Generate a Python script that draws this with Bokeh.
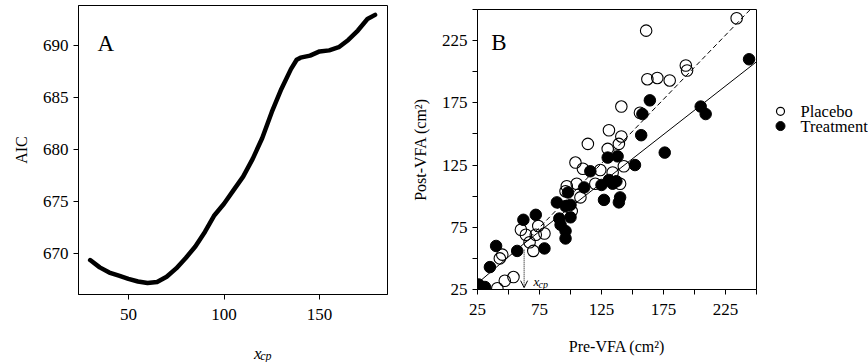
from bokeh.plotting import figure
from bokeh.layouts import row, column
from bokeh.models import FixedTicker, Label, Arrow, OpenHead
from bokeh.embed import file_html
from bokeh.resources import INLINE
from bokeh.core.properties import value

FONT = "Liberation Serif"

# ---- Panel A data: AIC profile over candidate change point x_cp ----
xcp_values = [30, 35, 40, 45, 50, 55, 60, 65, 70, 75, 80, 85, 90, 95, 100, 105, 110,
              115, 120, 125, 130, 135, 138, 140, 145, 150, 155, 160, 165, 170, 175, 179]
aic_values = [669.4, 668.7, 668.2, 667.9, 667.6, 667.35, 667.2, 667.3, 667.8, 668.6,
              669.6, 670.7, 672.1, 673.7, 674.8, 676.1, 677.4, 679.1, 681.1, 683.6,
              685.8, 687.7, 688.6, 688.8, 689.0, 689.4, 689.5, 689.8, 690.5, 691.4,
              692.5, 692.9]
a_xticks = [50, 100, 150]
a_yticks = [670, 675, 680, 685, 690]

# ---- Panel B data: pre vs post VFA ----
placebo_pre = [234, 161, 162, 170, 180, 193, 194, 141, 156, 131, 141, 139, 114, 130, 104,
               110, 124, 134, 143, 105, 108, 97, 120, 140, 101, 96, 60, 64, 72, 74, 79,
               67, 70, 43, 45, 41, 47, 54]
placebo_post = [243, 233, 194, 195, 193, 205, 201, 172, 167, 153, 148, 142, 142, 138, 127,
                122, 121, 119, 124, 110, 99, 108, 110, 110, 88, 104, 73, 69, 69, 76, 70,
                63, 56, 50, 53, 26, 32, 35]
treatment_pre = [244, 205, 209, 164, 158, 157, 176, 152, 130, 138, 116, 125, 131, 137, 127,
                 140, 139, 111, 98, 89, 96, 91, 100, 92, 96, 96, 72, 62, 57, 79, 40, 35,
                 26, 31, 100, 134]
treatment_post = [210, 172, 166, 177, 166, 149, 135, 125, 131, 132, 120, 109, 113, 112, 97,
                  99, 95, 107, 103, 95, 92, 82, 83, 77, 72, 66, 85, 81, 56, 58, 60, 43,
                  29, 27, 93, 110]
x_cp = 62.6
common_fit_x = [25, x_cp]
common_fit_y = [30, 62]
treatment_fit_x = [x_cp, 250]
treatment_fit_y = [62, 208]
placebo_fit_x = [x_cp, 245]
placebo_fit_y = [62, 250]
b_ticks = [25, 50, 75, 100, 125, 150, 175, 200, 225, 250]
b_labelled = [25, 75, 125, 175, 225]
legend_labels = ["Placebo", "Treatment"]


def style(p):
    for ax in (p.xaxis[0], p.yaxis[0]):
        ax.axis_line_color = "black"
        ax.axis_line_width = 1
        ax.major_tick_line_color = "black"
        ax.major_tick_out = 5
        ax.major_tick_in = 0
        ax.minor_tick_line_color = None
        ax.major_label_text_font = FONT
        ax.major_label_text_font_size = "17px"
        ax.major_label_text_color = "black"
        ax.axis_label_text_font = FONT
        ax.axis_label_text_font_style = "normal"
        ax.axis_label_text_font_size = "16px"
        ax.axis_label_text_color = "black"
    p.xaxis.major_label_standoff = 9
    p.yaxis.major_label_standoff = 5
    p.grid.visible = False
    p.outline_line_color = "black"
    p.outline_line_alpha = 1
    p.background_fill_color = "white"
    p.border_fill_color = "white"


def blank(p):
    p.grid.visible = False
    p.outline_line_color = None
    p.background_fill_color = "white"
    p.border_fill_color = "white"


# ---------------- Panel A ----------------
pA = figure(width=392, height=330, x_range=(23.9, 185.5), y_range=(666.1, 693.8),
            output_backend="svg", toolbar_location=None, title=None,
            min_border_left=78, min_border_right=5, min_border_top=5, min_border_bottom=36)
style(pA)
pA.xaxis.ticker = FixedTicker(ticks=a_xticks)
pA.yaxis.ticker = FixedTicker(ticks=a_yticks)
pA.yaxis.axis_label = "AIC"
pA.yaxis.axis_label_standoff = 10
pA.line(xcp_values, aic_values, line_color="black", line_width=4.5,
        line_cap="round", line_join="round")
pA.add_layout(Label(x=33.8, y=690.16, text="A", text_font=FONT, text_font_size="23px",
                    text_baseline="alphabetic", text_color="black"))

# x-axis title of panel A (x with subscript cp), on its own strip below panel A
pAx = figure(width=392, height=32, x_range=(0, 392), y_range=(362, 330),
             output_backend="svg", toolbar_location=None, title=None,
             x_axis_type=None, y_axis_type=None,
             min_border_left=0, min_border_right=0, min_border_top=0, min_border_bottom=0)
blank(pAx)
pAx.text([222.5], [353], text=["x"], text_font=value(FONT), text_font_style="italic",
         text_font_size="17px", text_baseline="alphabetic", text_color="black")
pAx.text([230.5], [355.5], text=["cp"], text_font=value(FONT), text_font_style="italic",
         text_font_size="12px", text_baseline="alphabetic", text_color="black")

# ---------------- Panel B ----------------
pB = figure(width=372, height=362, x_range=(25, 250), y_range=(25, 250),
            output_backend="svg", toolbar_location=None, title=None,
            min_border_left=85, min_border_right=8, min_border_top=9, min_border_bottom=73)
style(pB)
overrides = {t: ("" if t not in b_labelled else str(t)) for t in b_ticks}
for ax in (pB.xaxis[0], pB.yaxis[0]):
    ax.ticker = FixedTicker(ticks=b_ticks)
    ax.major_label_overrides = overrides
pB.xaxis.axis_label = "Pre-VFA (cm²)"
pB.xaxis.axis_label_standoff = 20
pB.yaxis.axis_label = "Post-VFA (cm²)"
pB.yaxis.axis_label_standoff = 10

pB.line(common_fit_x, common_fit_y, line_color="black", line_width=1)
pB.line(treatment_fit_x, treatment_fit_y, line_color="black", line_width=1)
pB.line(placebo_fit_x, placebo_fit_y, line_color="black", line_width=1, line_dash="5 3")

pB.add_layout(Arrow(end=OpenHead(size=7, line_width=1, line_color="black"),
                    x_start=x_cp, y_start=57, x_end=x_cp, y_end=26.5,
                    line_color="black", line_width=1, line_dash="1 1"))

pB.scatter(placebo_pre, placebo_post, size=11.5, marker="circle", fill_color=None,
           line_color="black", line_width=1.1)
pB.scatter(treatment_pre, treatment_post, size=11.5, marker="circle", fill_color="black",
           line_color="black", line_width=1)

pB.add_layout(Label(x=70.2, y=31.1, text="x", text_font=FONT, text_font_style="italic",
                    text_font_size="13px", text_baseline="alphabetic", text_color="black"))
pB.add_layout(Label(x=74.2, y=29.3, text="cp", text_font=FONT, text_font_style="italic",
                    text_font_size="10px", text_baseline="alphabetic", text_color="black"))
pB.add_layout(Label(x=36, y=223.4, text="B", text_font=FONT, text_font_size="23px",
                    text_baseline="alphabetic", text_color="black"))

# ---------------- Legend (separate small canvas) ----------------
pL = figure(width=104, height=362, x_range=(0, 104), y_range=(362, 0),
            output_backend="svg", toolbar_location=None, title=None,
            x_axis_type=None, y_axis_type=None,
            min_border_left=0, min_border_right=0, min_border_top=0, min_border_bottom=0)
blank(pL)
pL.scatter([16], [131.7], size=8, marker="circle", fill_color=None,
           line_color="black", line_width=1.2)
pL.scatter([16], [150.7], size=9, marker="circle", fill_color="black", line_color="black")
pL.text([36, 36], [131.7, 150.7], text=legend_labels, text_font=value(FONT),
        text_font_size="16.5px", text_baseline="middle", text_align="left", text_color="black")

layout = row(column(pA, pAx), pB, pL)
open("out.html", "w").write(file_html(layout, INLINE))
